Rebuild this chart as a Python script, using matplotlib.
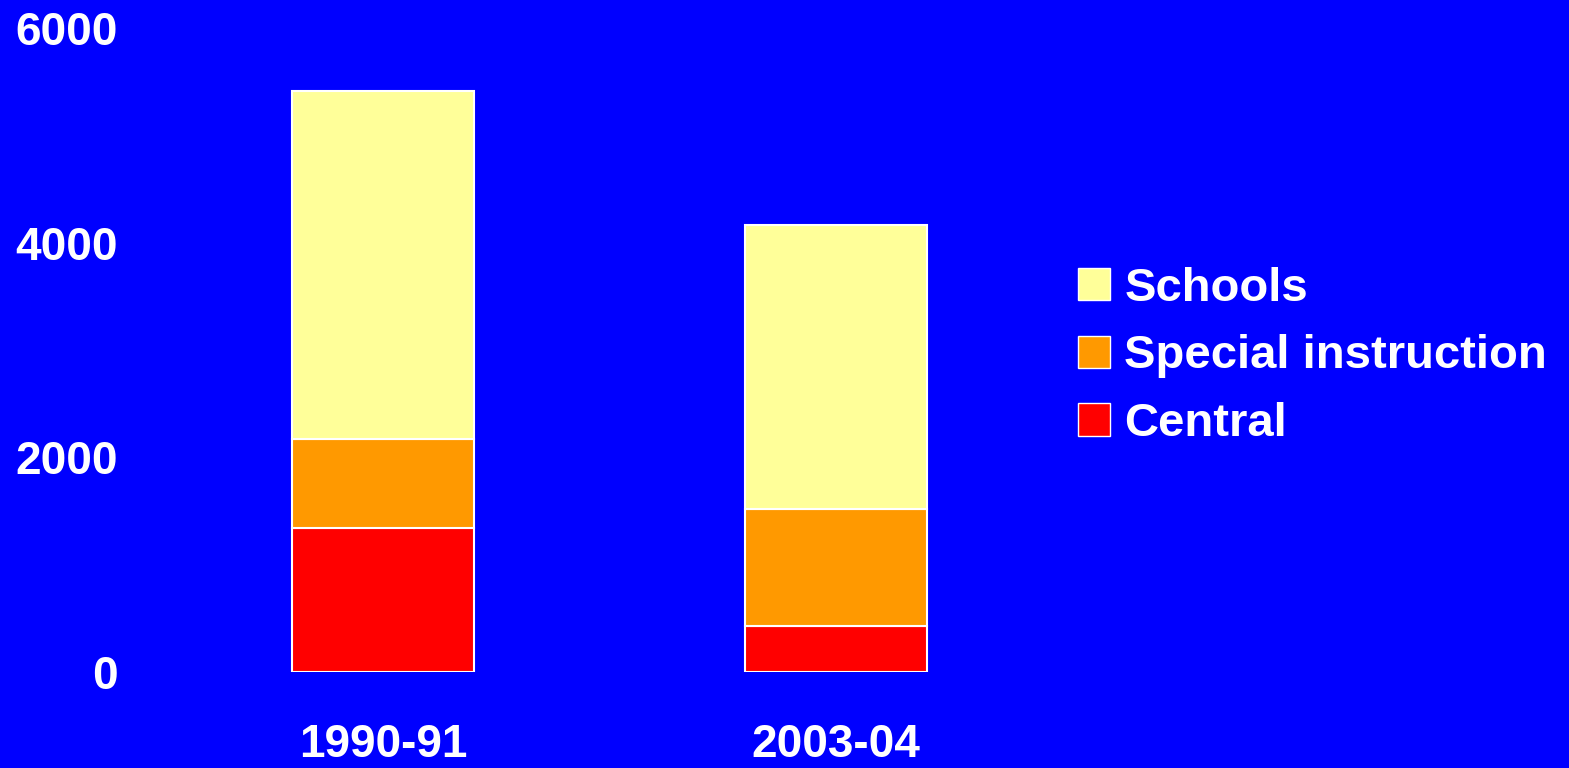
import numpy as np
import matplotlib.pyplot as plt
from matplotlib.patches import Patch

years = ["1990-91", "2003-04"]
central = [1340, 425]
special = [835, 1090]
schools = [3240, 2650]

plt.rcParams['font.family'] = ['Liberation Sans', 'DejaVu Sans']

fig = plt.figure(figsize=(15.69, 7.68), dpi=100)
fig.patch.set_facecolor('#0000FF')
ax = fig.add_axes([0.0997, 0.125, 0.5775, 0.8385])
ax.set_facecolor('#0000FF')

x = np.arange(len(years))
w = 0.4
ec = 'white'
ax.bar(x, central, w, color='#FF0000', edgecolor=ec, linewidth=1.5, label='Central')
ax.bar(x, special, w, bottom=central, color='#FF9900', edgecolor=ec, linewidth=1.5, label='Special instruction')
bottom2 = np.array(central) + np.array(special)
ax.bar(x, schools, w, bottom=bottom2, color='#FFFF99', edgecolor=ec, linewidth=1.5, label='Schools')

ax.set_xlim(-0.5, 1.5)
ax.set_ylim(0, 6000)
ax.set_yticks([0, 2000, 4000, 6000])
ax.set_xticks(x)
ax.set_xticklabels(years)
for s in ax.spines.values():
    s.set_visible(False)
ax.tick_params(length=0, colors='white', labelsize=33)
ax.tick_params(axis='y', pad=28)
ax.tick_params(axis='x', pad=37)
for lab in ax.get_xticklabels() + ax.get_yticklabels():
    lab.set_fontweight('bold')

handles = [Patch(facecolor='#FFFF99', edgecolor=ec, label='Schools'),
           Patch(facecolor='#FF9900', edgecolor=ec, label='Special instruction'),
           Patch(facecolor='#FF0000', edgecolor=ec, label='Central')]
leg = fig.legend(handles=handles, loc='center left', bbox_to_anchor=(0.687, 0.536),
                 frameon=False, borderpad=0, borderaxespad=0,
                 handlelength=0.68, handleheight=0.68,
                 handletextpad=0.3, labelspacing=0.5, prop={'weight': 'bold', 'size': 34})
for t in leg.get_texts():
    t.set_color('white')

fig.savefig('out.png', dpi=100, facecolor=fig.get_facecolor())
